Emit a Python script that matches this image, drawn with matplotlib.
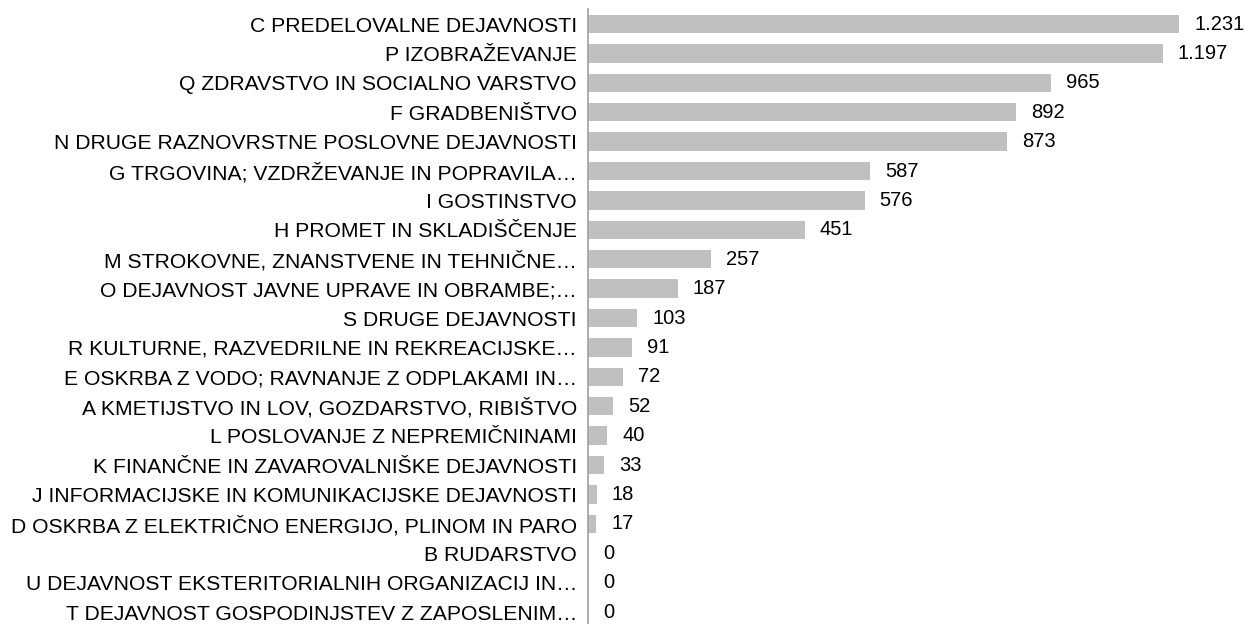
import matplotlib.pyplot as plt

# podatki
dejavnosti = [
    "C PREDELOVALNE DEJAVNOSTI",
    "P IZOBRAŽEVANJE",
    "Q ZDRAVSTVO IN SOCIALNO VARSTVO",
    "F GRADBENIŠTVO",
    "N DRUGE RAZNOVRSTNE POSLOVNE DEJAVNOSTI",
    "G TRGOVINA; VZDRŽEVANJE IN POPRAVILA…",
    "I GOSTINSTVO",
    "H PROMET IN SKLADIŠČENJE",
    "M STROKOVNE, ZNANSTVENE IN TEHNIČNE…",
    "O DEJAVNOST JAVNE UPRAVE IN OBRAMBE;…",
    "S DRUGE DEJAVNOSTI",
    "R KULTURNE, RAZVEDRILNE IN REKREACIJSKE…",
    "E OSKRBA Z VODO; RAVNANJE Z ODPLAKAMI IN…",
    "A KMETIJSTVO IN LOV, GOZDARSTVO, RIBIŠTVO",
    "L POSLOVANJE Z NEPREMIČNINAMI",
    "K FINANČNE IN ZAVAROVALNIŠKE DEJAVNOSTI",
    "J INFORMACIJSKE IN KOMUNIKACIJSKE DEJAVNOSTI",
    "D OSKRBA Z ELEKTRIČNO ENERGIJO, PLINOM IN PARO",
    "B RUDARSTVO",
    "U DEJAVNOST EKSTERITORIALNIH ORGANIZACIJ IN…",
    "T DEJAVNOST GOSPODINJSTEV Z ZAPOSLENIM…",
]
vrednosti = [1231, 1197, 965, 892, 873, 587, 576, 451, 257, 187, 103,
             91, 72, 52, 40, 33, 18, 17, 0, 0, 0]

plt.rcParams['font.family'] = ['Liberation Sans', 'DejaVu Sans']

fig = plt.figure(figsize=(12.45, 6.24), dpi=100)
ax = fig.add_axes([588 / 1245, -2.7 / 624, 657 / 1245, 617.4 / 624])

y = list(range(len(dejavnosti)))
ax.barh(y, vrednosti, height=0.62, color='#c0c0c0')
ax.set_ylim(len(dejavnosti) - 0.5, -0.5)
ax.set_xlim(0, 1368)

for i, v in enumerate(vrednosti):
    txt = f"{v:,}".replace(",", ".")
    ax.annotate(txt, (v, i), xytext=(15, 0), textcoords='offset pixels',
                va='center', ha='left', fontsize=14.5, color='#000000')

ax.set_yticks(y)
ax.set_yticklabels(dejavnosti, fontsize=15.2)
ax.tick_params(axis='y', length=0, pad=8)
ax.set_xticks([])
for s in ['top', 'right', 'bottom']:
    ax.spines[s].set_visible(False)
ax.spines['left'].set_color('#a0a0a0')
ax.spines['left'].set_linewidth(1.2)

fig.savefig('out.png', dpi=100)
